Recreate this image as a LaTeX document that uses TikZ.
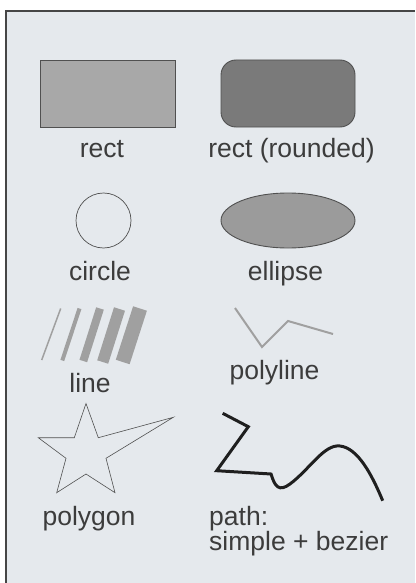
\documentclass[tikz,border=0pt]{standalone}
\usepackage{fontspec}
\setmainfont{Liberation Sans}
\usetikzlibrary{shapes.geometric}
\definecolor{bgfill}{RGB}{229,233,237}
\definecolor{frame}{RGB}{70,70,70}
\definecolor{txt}{RGB}{60,60,60}
\definecolor{rectfill}{RGB}{168,168,168}
\definecolor{roundfill}{RGB}{122,122,122}
\definecolor{ellfill}{RGB}{155,155,155}
\definecolor{edge}{RGB}{80,80,80}
\definecolor{linegray}{RGB}{160,160,160}
\begin{document}
\begin{tikzpicture}[x=1pt,y=-1pt,
  lbl/.style={anchor=base,inner sep=0pt,text=txt,font=\fontsize{26.5}{26.5}\selectfont},
  lbll/.style={anchor=base west,inner sep=0pt,text=txt,font=\fontsize{26.5}{26.5}\selectfont},
  shapebox/.style={inner sep=0pt,outer sep=0pt,draw=edge,line width=0.9pt},
  slant/.style={draw=linegray}
]
\useasboundingbox (0,0) rectangle (415,583);
\fill[white] (0,0) rectangle (415,583);
\fill[bgfill] (6,11) rectangle (415,583);
\draw[frame,line width=1.2pt] (6,583) -- (6,11) -- (415,11);

% rect
\node[shapebox,rectangle,fill=rectfill,minimum width=135pt,minimum height=67pt] (rect) at (107.5,93.5) {};
\node[shapebox,rectangle,rounded corners=15pt,fill=roundfill,minimum width=134pt,minimum height=67pt] (rrect) at (288,93.5) {};
\node[lbl] (lrect) at (102,157) {rect};
\node[lbl] (lrrect) at (291.5,157) {rect (rounded)};

% circle, ellipse
\node[shapebox,circle,line width=0.7pt,minimum size=55pt] (circ) at (103.5,220.5) {};
\node[shapebox,ellipse,fill=ellfill,minimum width=134pt,minimum height=55pt] (ell) at (288,220.5) {};
\node[lbl] (lcirc) at (100,280) {circle};
\node[lbl] (lell) at (285.5,280) {ellipse};

% lines
\draw[slant,line width=1.5pt] (60.7,308.5) -- (41.7,360);
\draw[slant,line width=4pt] (79.5,308.5) -- (62.3,360.5);
\draw[slant,line width=8pt] (100,308.5) -- (83.3,361);
\draw[slant,line width=11.5pt] (119.5,309) -- (102.7,362);
\draw[slant,line width=14.5pt] (140,308.5) -- (122.7,362);
\node[lbl] (lline) at (90,392) {line};

% polyline
\draw[draw=linegray,line width=2pt,line join=miter] (235,308) -- (262,347) -- (288,321) -- (333,334);
\node[lbl] (lpoly) at (274.5,379) {polyline};

% polygon (star)
\draw[draw=edge,line width=0.6pt,line join=miter]
  (86,403.5) -- (98.3,437.7) -- (173.3,417.3) -- (106,458.3) -- (115,492.7)
  -- (86,474) -- (56.7,492.7) -- (66,458.3) -- (38.3,437.7) -- (74.3,437.7) -- cycle;
\node[lbl] (lpolygon) at (89,525) {polygon};

% path: simple + bezier
\draw[black!88,line width=3pt,line join=miter]
  (222.7,413.3) -- (248.3,426.7) -- (216.7,470.7) -- (271,474)
  .. controls (275,487) and (279,492) .. (290,484)
  .. controls (310,469) and (324,444) .. (340,446)
  .. controls (358,448) and (372,475) .. (382.7,500.7);
\node[lbll] (lpath) at (209,525) {path:};
\node[lbll] (lpath2) at (209,550.5) {simple + bezier};
\end{tikzpicture}
\end{document}
